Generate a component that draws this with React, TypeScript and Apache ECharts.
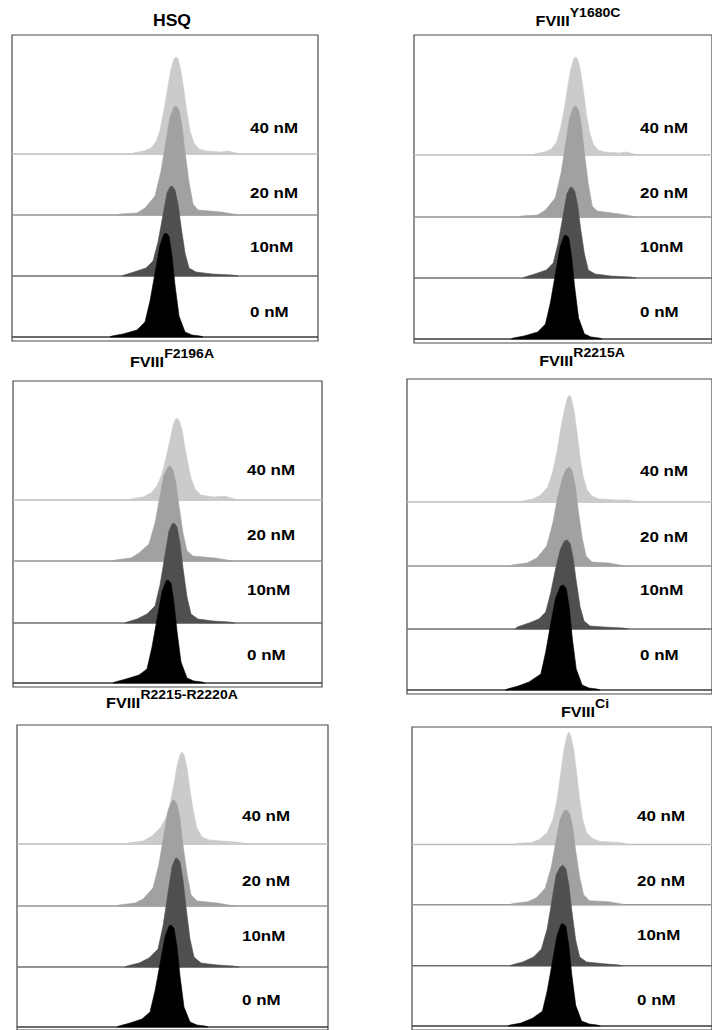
import React, { useEffect, useRef } from "react";
import * as echarts from "echarts";

// ---------- DATA ----------
const concentrations = ["40 nM", "20 nM", "10nM", "0 nM"];
const titleMain = ["HSQ", "FVIII", "FVIII", "FVIII", "FVIII", "FVIII"];
const titleSup = ["", "Y1680C", "F2196A", "R2215A", "R2215-R2220A", "Ci"];

// histogram points [channel, count] per panel, per concentration
const HSQ_40 = [[120,0],[121,1],[132,3],[139,6],[144,12],[148,24],[152,44],[156,68],[159,85],[162,95],[164,97],[166,95],[169,83],[172,63],[175,41],[178,23],[182,11],[187,5],[194,3],[209,2],[216,3],[224,1],[230,0]];
const HSQ_20 = [[106,0],[108,1],[125,2],[133,7],[143,19],[149,44],[154,74],[158,98],[162,108],[164,109],[167,105],[170,89],[173,63],[177,33],[181,11],[186,5],[209,3],[221,1],[226,0]];
const HSQ_10 = [[110,0],[112,1],[122,4],[134,8],[141,15],[146,34],[151,61],[155,83],[158,89],[160,90],[163,86],[166,72],[169,50],[173,23],[177,8],[184,4],[200,2],[220,1],[226,0]];
const HSQ_0 = [[98,0],[100,1],[111,3],[125,7],[133,15],[138,36],[143,64],[148,92],[152,103],[154,104],[157,101],[160,81],[163,52],[167,21],[173,5],[180,2],[188,1],[191,0]];

const Y1680C_40 = [[122,0],[123,1],[134,3],[141,6],[146,12],[150,25],[154,44],[158,69],[161,86],[164,96],[166,98],[168,96],[171,84],[174,64],[177,41],[180,24],[184,11],[189,5],[196,3],[211,2],[218,3],[226,1],[232,0]];
const Y1680C_20 = [[108,0],[110,1],[127,2],[135,7],[145,19],[151,44],[156,75],[160,100],[164,110],[166,111],[169,107],[172,91],[175,64],[179,33],[183,11],[188,6],[211,3],[223,1],[228,0]];
const Y1680C_10 = [[112,0],[114,1],[124,4],[136,8],[143,15],[148,35],[153,62],[157,84],[160,90],[162,91],[165,87],[168,73],[171,50],[175,24],[179,8],[186,4],[202,2],[222,1],[228,0]];
const Y1680C_0 = [[100,0],[102,1],[113,3],[127,7],[135,15],[140,36],[145,64],[150,92],[154,103],[156,104],[159,101],[162,81],[165,52],[169,21],[175,5],[182,2],[190,1],[193,0]];

const F2196A_40 = [[117,0],[118,1],[130,3],[138,7],[144,14],[149,26],[153,42],[157,60],[160,74],[162,80],[164,82],[166,80],[169,70],[172,52],[175,36],[178,22],[182,11],[188,5],[200,3],[212,4],[218,2],[226,0]];
const F2196A_20 = [[100,0],[102,1],[118,3],[126,8],[136,17],[142,38],[147,65],[151,86],[155,94],[157,95],[160,91],[163,78],[166,55],[170,28],[174,10],[180,5],[202,3],[214,1],[220,0]];
const F2196A_10 = [[112,0],[114,1],[124,4],[134,9],[142,17],[147,38],[152,68],[156,92],[159,99],[161,100],[164,96],[167,80],[170,55],[174,26],[178,9],[185,4],[200,2],[216,1],[222,0]];
const F2196A_0 = [[100,0],[102,1],[113,4],[126,8],[134,14],[139,36],[144,64],[149,91],[153,102],[155,103],[158,100],[161,80],[164,52],[168,21],[174,5],[181,2],[189,1],[192,0]];

const R2215A_40 = [[116,0],[117,1],[128,3],[136,7],[143,15],[148,30],[152,48],[156,72],[160,92],[163,104],[165,107],[167,104],[170,90],[173,68],[176,44],[179,26],[183,12],[188,6],[195,3],[215,2],[225,2],[235,0]];
const R2215A_20 = [[105,0],[107,1],[122,3],[132,8],[142,20],[148,42],[153,68],[158,88],[162,97],[165,99],[168,95],[171,80],[174,56],[178,28],[182,10],[188,4],[205,3],[216,1],[222,0]];
const R2215A_10 = [[110,0],[112,2],[124,6],[134,10],[141,17],[146,36],[151,60],[156,80],[160,88],[163,89],[166,85],[169,70],[172,48],[176,22],[180,8],[186,3],[200,2],[220,1],[225,0]];
const R2215A_0 = [[100,0],[102,1],[113,4],[124,8],[136,16],[141,38],[146,66],[151,92],[156,104],[159,105],[162,101],[165,82],[168,52],[172,21],[178,5],[185,2],[193,1],[196,0]];

const R2220A_40 = [[110,0],[111,1],[126,3],[135,8],[143,16],[149,26],[153,40],[157,60],[160,78],[163,89],[165,92],[167,89],[170,76],[173,54],[176,34],[180,16],[185,7],[192,4],[205,3],[220,2],[232,0]];
const R2220A_20 = [[100,0],[102,1],[118,3],[126,7],[136,18],[142,42],[147,72],[151,95],[155,105],[157,106],[160,102],[163,87],[166,61],[170,32],[174,11],[180,5],[200,3],[212,1],[218,0]];
const R2220A_10 = [[108,0],[110,1],[122,4],[132,9],[141,18],[146,41],[151,74],[155,100],[158,108],[160,109],[163,105],[166,87],[169,60],[173,28],[177,10],[184,4],[200,2],[216,1],[222,0]];
const R2220A_0 = [[100,0],[102,1],[113,4],[125,8],[133,15],[138,36],[143,63],[148,90],[152,101],[154,102],[157,99],[160,80],[163,51],[167,20],[173,5],[180,2],[188,1],[191,0]];

const CI_40 = [[105,0],[107,1],[122,2],[130,5],[138,12],[144,26],[148,46],[152,74],[155,96],[158,110],[160,114],[162,110],[165,96],[168,72],[171,46],[174,26],[178,12],[184,6],[192,3],[212,2],[222,0]];
const CI_20 = [[100,0],[102,1],[118,3],[127,7],[136,17],[142,38],[147,65],[151,86],[155,95],[158,96],[161,92],[164,78],[167,54],[171,28],[175,10],[181,4],[200,3],[212,1],[218,0]];
const CI_10 = [[100,0],[102,1],[113,4],[124,9],[132,17],[138,38],[143,68],[147,92],[151,100],[154,102],[157,98],[160,82],[163,56],[167,26],[171,9],[178,4],[196,2],[210,1],[215,0]];
const CI_0 = [[98,0],[100,1],[111,3],[123,8],[133,15],[138,36],[143,64],[148,92],[152,103],[154,104],[157,101],[160,81],[163,52],[167,21],[173,5],[181,2],[189,1],[192,0]];

const panelHists = [
  [HSQ_40, HSQ_20, HSQ_10, HSQ_0],
  [Y1680C_40, Y1680C_20, Y1680C_10, Y1680C_0],
  [F2196A_40, F2196A_20, F2196A_10, F2196A_0],
  [R2215A_40, R2215A_20, R2215A_10, R2215A_0],
  [R2220A_40, R2220A_20, R2220A_10, R2220A_0],
  [CI_40, CI_20, CI_10, CI_0],
];

// ---------- STYLE / LAYOUT ----------
const fillColors = ["#cbcbcb", "#a1a1a1", "#4f4f4f", "#000000"];
const lineColors = ["#bcbcbc", "#959595", "#6e6e6e", "#3a3a3a"];
const FONT = "'Liberation Sans', Arial, sans-serif";

type Layout = {
  left: number; top: number; width: number; boxBottom: number;
  baselines: number[]; labelX: number; labelY: number[];
  titleX: number; titleY: number;
};

const layouts: Layout[] = [
  { left: 12, top: 35, width: 306, boxBottom: 341, baselines: [154, 215, 276, 337], labelX: 250, labelY: [128, 193, 247, 312], titleX: 172, titleY: 21 },
  { left: 414, top: 35, width: 306, boxBottom: 343, baselines: [155, 217, 278, 339], labelX: 640, labelY: [128, 193, 247, 312], titleX: 578, titleY: 21 },
  { left: 13, top: 381, width: 309, boxBottom: 687, baselines: [500, 561, 623, 683], labelX: 247, labelY: [470, 535, 590, 655], titleX: 172, titleY: 362 },
  { left: 407, top: 379, width: 310, boxBottom: 694, baselines: [502, 566, 629, 690], labelX: 640, labelY: [471, 537, 590, 655], titleX: 582, titleY: 361 },
  { left: 17, top: 725, width: 311, boxBottom: 1030, baselines: [844, 906, 967, 1027], labelX: 242, labelY: [816, 881, 936, 1000], titleX: 172, titleY: 703 },
  { left: 412, top: 727, width: 306, boxBottom: 1034, baselines: [846, 907, 969, 1030], labelX: 637, labelY: [816, 881, 935, 1000], titleX: 585, titleY: 712 },
];

export default function App() {
  const ref = useRef<HTMLDivElement>(null);
  useEffect(() => {
    if (!ref.current) return;
    const chart = echarts.init(ref.current, undefined, { renderer: "svg" });

    const grids: any[] = [];
    const xAxes: any[] = [];
    const yAxes: any[] = [];
    const series: any[] = [];
    const graphics: any[] = [];

    layouts.forEach((L, p) => {
      const b0 = L.baselines[3];
      grids.push({
        left: L.left, top: L.top, width: L.width, height: L.boxBottom - L.top,
        show: true, borderColor: "#4a4a4a", borderWidth: 1.2, backgroundColor: "transparent",
      });
      xAxes.push({ type: "value", gridIndex: p, min: 0, max: L.width, show: false });
      yAxes.push({ type: "value", gridIndex: p, min: -(L.boxBottom - b0), max: b0 - L.top, show: false });
      const hists = panelHists[p];
      series.push({
        type: "custom",
        xAxisIndex: p,
        yAxisIndex: p,
        encode: { x: 0, y: 1 },
        data: hists.map((_, k) => [0, b0 - L.baselines[k]]),
        renderItem: (params: any, api: any) => {
          const k = params.dataIndex;
          const off = b0 - L.baselines[k];
          const pts = hists[k].map(([x, y]) => api.coord([x, off + y]));
          const a = api.coord([0, off]);
          const b = api.coord([L.width, off]);
          return {
            type: "group",
            children: [
              { type: "line", shape: { x1: a[0], y1: a[1], x2: b[0], y2: b[1] }, style: { stroke: lineColors[k], lineWidth: 1.5 } },
              { type: "polygon", shape: { points: pts }, style: { fill: fillColors[k], stroke: fillColors[k], lineWidth: 0.6 } },
            ],
          };
        },
      });

      // concentration labels
      concentrations.forEach((c, k) => {
        graphics.push({
          type: "text", x: L.labelX, y: L.labelY[k], scaleX: 1.13, z: 100,
          style: { text: c, font: `bold 15px ${FONT}`, fill: "#000", textAlign: "left", textVerticalAlign: "middle" },
        });
      });

      // titles
      if (titleSup[p]) {
        graphics.push({
          type: "text", x: L.titleX, y: L.titleY, scaleX: 1.08, z: 100,
          style: {
            text: `{m|${titleMain[p]}}{s|${titleSup[p]}}`,
            textAlign: "center", textVerticalAlign: "middle", fill: "#000",
            rich: {
              m: { fontSize: 15, fontWeight: "bold", fontFamily: FONT, lineHeight: 30, verticalAlign: "middle", fill: "#000" },
              s: { fontSize: 13, fontWeight: "bold", fontFamily: FONT, lineHeight: 14, verticalAlign: "top", fill: "#000" },
            },
          },
        });
      } else {
        graphics.push({
          type: "text", x: L.titleX, y: L.titleY, scaleX: 1.1, z: 100,
          style: { text: titleMain[p], font: `bold 16px ${FONT}`, fill: "#000", textAlign: "center", textVerticalAlign: "middle" },
        });
      }
    });

    chart.setOption({
      animation: false,
      backgroundColor: "#ffffff",
      grid: grids,
      xAxis: xAxes,
      yAxis: yAxes,
      series,
      graphic: graphics,
    });
    return () => chart.dispose();
  }, []);

  return (
    <div
      ref={ref}
      style={{ position: "absolute", left: 0, top: 0, width: 712, height: 1030 }}
    />
  );
}
